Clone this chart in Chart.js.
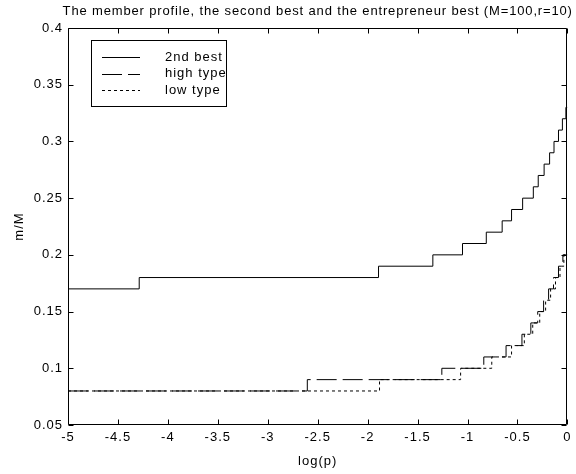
<!DOCTYPE html>
<html><head><meta charset="utf-8">
<script src="https://cdn.jsdelivr.net/npm/chart.js@4.4.1/dist/chart.umd.min.js"></script>
<style>html,body{margin:0;padding:0;background:#fff;}#wrap{width:576px;height:474px;}</style>
</head><body><div id="wrap"><canvas id="c" width="576" height="474"></canvas></div>
<script>
const titleText = "The member profile, the second best and the entrepreneur best (M=100,r=10)";
const xAxisTitle = "log(p)";
const yAxisTitle = "m/M";
const xTickValues = [-5, -4.5, -4, -3.5, -3, -2.5, -2, -1.5, -1, -0.5, 0];
const xTickLabels = ["-5", "-4.5", "-4", "-3.5", "-3", "-2.5", "-2", "-1.5", "-1", "-0.5", "0"];
const yTickValues = [0.05, 0.1, 0.15, 0.2, 0.25, 0.3, 0.35, 0.4];
const yTickLabels = ["0.05", "0.1", "0.15", "0.2", "0.25", "0.3", "0.35", "0.4"];
const seriesNames = ["2nd best", "high type", "low type"];

// step starts: x where each new level begins
const secondBestX = [-5, -4.287, -1.891, -1.347, -1.050, -0.812, -0.653, -0.559, -0.448, -0.341, -0.292, -0.233, -0.178, -0.134, -0.089, -0.050, -0.015, 0];
const secondBestY = [0.17, 0.18, 0.19, 0.20, 0.21, 0.22, 0.23, 0.24, 0.25, 0.26, 0.27, 0.28, 0.29, 0.30, 0.31, 0.32, 0.33, 0.33];
const highX = [-5, -2.604, -1.257, -0.837, -0.614, -0.455, -0.366, -0.297, -0.238, -0.188, -0.139, -0.089, -0.045, 0];
const highY = [0.08, 0.09, 0.10, 0.11, 0.12, 0.13, 0.14, 0.15, 0.16, 0.17, 0.18, 0.19, 0.20, 0.20];
const lowX = [-5, -1.881, -1.069, -0.757, -0.559, -0.431, -0.347, -0.277, -0.218, -0.168, -0.119, -0.074, -0.035, 0];
const lowY = [0.08, 0.09, 0.10, 0.11, 0.12, 0.13, 0.14, 0.15, 0.16, 0.17, 0.18, 0.19, 0.20, 0.20];

const FONT = "'Liberation Sans', Arial, Helvetica, sans-serif";
const dashes = [[], [20, 6], [3, 3]];

function pts(xs, ys) { return xs.map((x, i) => ({x: x, y: ys[i]})); }

const framePlugin = {
  id: 'frame',
  beforeDraw(chart) { chart.ctx.letterSpacing = '1px'; },
  afterDatasetsDraw(chart) {
    const ctx = chart.ctx, a = chart.chartArea, sx = chart.scales.x, sy = chart.scales.y;
    ctx.save();
    ctx.strokeStyle = '#000'; ctx.lineWidth = 1; ctx.setLineDash([]);
    const L = Math.round(a.left) + 0.5, R = Math.round(a.right) - 0.5;
    const T = Math.round(a.top) + 0.5, B = Math.round(a.bottom) - 0.5;
    ctx.beginPath();
    ctx.rect(L, T, R - L, B - T);
    const tl = 5;
    xTickValues.forEach(v => {
      const p = Math.round(sx.getPixelForValue(v)) + 0.5;
      ctx.moveTo(p, B); ctx.lineTo(p, B - tl);
      ctx.moveTo(p, T); ctx.lineTo(p, T + tl);
    });
    yTickValues.forEach(v => {
      const p = Math.round(sy.getPixelForValue(v)) + 0.5;
      ctx.moveTo(L, p); ctx.lineTo(L + tl, p);
      ctx.moveTo(R, p); ctx.lineTo(R - tl, p);
    });
    ctx.stroke();
    ctx.restore();
  },
  afterDraw(chart) {
    const ctx = chart.ctx, a = chart.chartArea;
    ctx.save();
    ctx.letterSpacing = '0.85px';
    ctx.fillStyle = '#000';
    ctx.font = '13px ' + FONT;
    ctx.textAlign = 'center';
    ctx.textBaseline = 'middle';
    ctx.fillText(titleText, (a.left + a.right) / 2, 11);
    ctx.letterSpacing = '1px';
    // legend
    const bx = 91.5, by = 40.5, bw = 135, bh = 66;
    ctx.fillStyle = '#fff';
    ctx.fillRect(bx, by, bw, bh);
    ctx.strokeStyle = '#000'; ctx.lineWidth = 1;
    ctx.strokeRect(bx, by, bw, bh);
    const rows = [57, 73.5, 90];
    ctx.textAlign = 'left';
    chart.data.datasets.forEach((ds, i) => {
      const yy = Math.round(rows[i]) + 0.5;
      ctx.beginPath();
      ctx.setLineDash(ds.borderDash || []);
      ctx.moveTo(102, yy); ctx.lineTo(140, yy);
      ctx.stroke();
      ctx.setLineDash([]);
      ctx.fillStyle = '#000';
      ctx.fillText(ds.label, 165, rows[i]);
    });
    ctx.restore();
  }
};

Chart.defaults.font.family = FONT;
Chart.defaults.font.size = 13;
Chart.defaults.color = '#000';

new Chart(document.getElementById('c'), {
  type: 'line',
  data: {
    datasets: [
      {label: seriesNames[0], data: pts(secondBestX, secondBestY)},
      {label: seriesNames[1], data: pts(highX, highY)},
      {label: seriesNames[2], data: pts(lowX, lowY)}
    ].map((d, i) => Object.assign(d, {
      borderColor: '#000', borderWidth: 1, pointRadius: 0, stepped: 'before',
      fill: false, borderDash: dashes[i], tension: 0
    }))
  },
  options: {
    responsive: false, animation: false, devicePixelRatio: 1,
    layout: {padding: {top: 28, right: 3, left: 0, bottom: 0}},
    plugins: {legend: {display: false}, tooltip: {enabled: false}, title: {display: false}},
    scales: {
      x: {
        type: 'linear', min: -5, max: 0,
        afterBuildTicks: s => { s.ticks = xTickValues.map(v => ({value: v})); },
        afterFit: s => { s.height = 49; },
        grid: {display: false, drawTicks: false, tickLength: 0}, border: {display: false},
        ticks: {padding: 5, autoSkip: false, maxRotation: 0, color: '#000',
          callback: (v, i) => xTickLabels[i]},
        title: {display: true, text: xAxisTitle, color: '#000', padding: {top: 0, bottom: 5}}
      },
      y: {
        type: 'linear', min: 0.05, max: 0.4,
        afterBuildTicks: s => { s.ticks = yTickValues.map(v => ({value: v})); },
        afterFit: s => { s.width = 68; },
        grid: {display: false, drawTicks: false, tickLength: 0}, border: {display: false},
        ticks: {padding: 5, autoSkip: false, color: '#000',
          callback: (v, i) => yTickLabels[i]},
        title: {display: true, text: yAxisTitle, color: '#000', padding: {top: 12, bottom: 0}}
      }
    }
  },
  plugins: [framePlugin]
});
</script></body></html>
